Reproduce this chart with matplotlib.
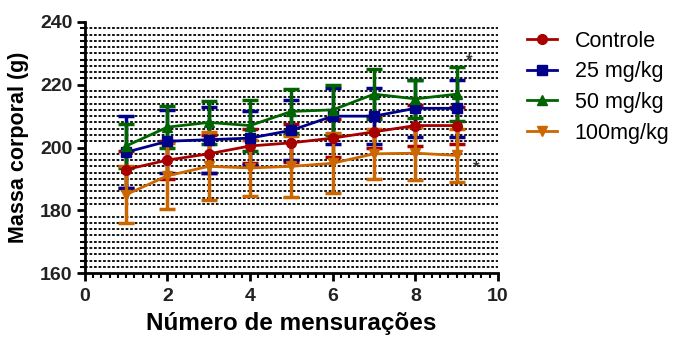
import numpy as np
import matplotlib
matplotlib.use('Agg')
import matplotlib.pyplot as plt
from matplotlib.ticker import MultipleLocator

plt.rcParams['font.family'] = ['Liberation Sans', 'DejaVu Sans']

x = [1, 2, 3, 4, 5, 6, 7, 8, 9]

controle = [193, 196, 198, 200.5, 201.5, 203, 205, 207, 207]
controle_err = [6, 6, 6, 5.5, 6, 6, 5, 6.5, 6]

mg25 = [198.5, 202, 202.5, 203, 205.5, 210, 210, 212.5, 212.5]
mg25_err = [11.5, 10, 10.5, 8.5, 9.5, 9, 9, 9, 9]

mg50 = [200.5, 206.5, 208, 207, 211.5, 212, 217, 215.5, 217]
mg50_err = [7, 6.8, 6.8, 8, 7, 8, 8, 6, 8.5]

mg100 = [185, 191, 194, 193.5, 194, 195, 198, 198.2, 197.5]
mg100_err = [9, 10.5, 10.8, 9, 9.6, 9.5, 8, 8.5, 8.5]

series = [
    ('Controle', controle, controle_err, '#A80000', 'o'),
    ('25 mg/kg', mg25, mg25_err, '#00008B', 's'),
    ('50 mg/kg', mg50, mg50_err, '#006400', '^'),
    ('100mg/kg', mg100, mg100_err, '#CC6600', 'v'),
]

# significance marks (x, y)
stars = [(9.3, 227.5), (9.48, 193.5)]

fig = plt.figure(figsize=(6.73, 3.38), dpi=100)
ax = fig.add_axes([0.126, 0.192, 0.614, 0.743])

for label, y, err, color, marker in series:
    ax.errorbar(x, y, yerr=err, color=color, marker=marker, markersize=7,
                linewidth=2, elinewidth=2.5, capsize=6, capthick=2.5,
                label=label)

for sx, sy in stars:
    ax.text(sx, sy, '*', fontsize=12, fontweight='bold', color='#333333',
            ha='center', va='center')

ax.set_xlim(0, 10)
ax.set_ylim(160, 240)
ax.xaxis.set_major_locator(MultipleLocator(2))
ax.xaxis.set_minor_locator(MultipleLocator(0.2))
ax.yaxis.set_major_locator(MultipleLocator(20))
ax.yaxis.set_minor_locator(MultipleLocator(2))

ax.grid(which='minor', axis='y', color='black', linestyle=(0, (1.5, 1)), linewidth=1.3)
ax.set_axisbelow(True)

for s in ['top', 'right']:
    ax.spines[s].set_visible(False)
for s in ['left', 'bottom']:
    ax.spines[s].set_linewidth(2)

ax.tick_params(which='major', length=6, width=2, labelsize=14)
ax.tick_params(axis='x', which='major', pad=5)
ax.tick_params(axis='y', which='major', pad=3)
ax.tick_params(which='minor', length=3.5, width=1.5)
for lab in ax.get_xticklabels() + ax.get_yticklabels():
    lab.set_fontweight('bold')
    lab.set_color('#222222')

ax.set_xlabel('Número de mensurações', fontsize=17.5, fontweight='bold', labelpad=5)
ax.set_ylabel('Massa corporal (g)', fontsize=15.5, fontweight='bold', labelpad=8)

handles, labels = ax.get_legend_handles_labels()
handles = [h[0] for h in handles]
ax.legend(handles, labels, loc='upper left', bbox_to_anchor=(1.05, 1.0),
          borderaxespad=0, frameon=False, fontsize=15.5, handlelength=1.4,
          handletextpad=0.8, labelspacing=0.45)

fig.savefig('out.png', dpi=100)
